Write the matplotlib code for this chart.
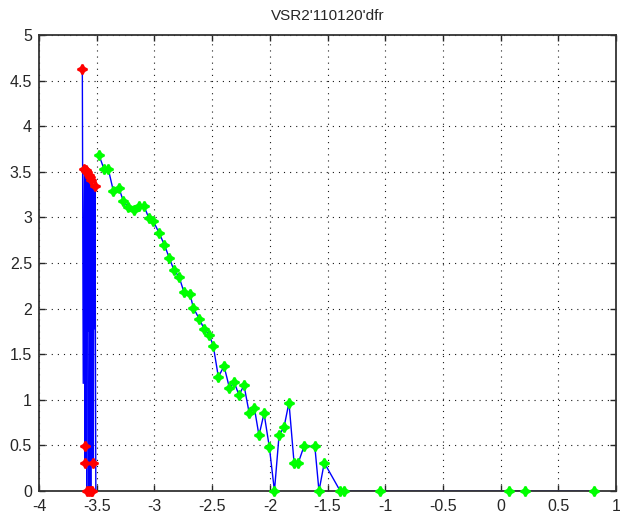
import numpy as np
import matplotlib
matplotlib.use("Agg")
import matplotlib.pyplot as plt

plt.rcParams['font.family'] = ['Liberation Sans', 'DejaVu Sans']

titulo = "VSR2'110120'dfr"

# tramo inicial (picos verticales)
pico_x = [-3.625, -3.617, -3.607, -3.601, -3.597, -3.601, -3.590, -3.587,
          -3.581, -3.575, -3.567, -3.567, -3.558, -3.552, -3.549, -3.543,
          -3.540, -3.535, -3.529, -3.525, -3.520, -3.517, -3.515, -3.508]
pico_y = [4.63, 1.18, 3.53, 0.49, 3.52, 0.31, 3.51, 0.0,
          3.50, 1.75, 3.46, 0.0, 3.44, 0.0, 3.41, 0.31,
          3.38, 1.80, 0.31, 3.36, 1.78, 3.34, 3.34, 0.0]

# puntos marcados en rojo
rojo_x = [-3.625, -3.607, -3.597, -3.590, -3.581, -3.567, -3.558, -3.549, -3.515,
          -3.601, -3.601, -3.529, -3.587, -3.567, -3.552, -3.543]
rojo_y = [4.63, 3.53, 3.52, 3.51, 3.50, 3.46, 3.44, 3.41, 3.34,
          0.49, 0.31, 0.31, 0.0, 0.0, 0.0, 0.0]

# segundo tramo (verde)
verde_x = [-3.480, -3.437, -3.400, -3.356, -3.307, -3.270, -3.226, -3.180,
           -3.133, -3.090, -3.047, -3.010, -2.960, -2.914, -2.873, -2.830,
           -2.787, -2.744, -2.692, -2.663, -2.613, -2.570, -2.524, -2.490,
           -2.446, -2.397, -2.350, -2.308, -2.267, -2.224, -2.178, -2.134,
           -2.094, -2.050, -2.004, -1.960, -1.920, -1.877, -1.834, -1.790,
           -1.753, -1.704, -1.610, -1.574, -1.528, -1.390, -1.357, -1.045,
           0.073, 0.210, 0.810]
verde_y = [3.68, 3.53, 3.53, 3.29, 3.32, 3.18, 3.11, 3.08,
           3.12, 3.12, 2.99, 2.96, 2.83, 2.70, 2.56, 2.42,
           2.35, 2.18, 2.16, 2.01, 1.89, 1.78, 1.71, 1.59,
           1.25, 1.37, 1.13, 1.19, 1.05, 1.16, 0.85, 0.91,
           0.61, 0.85, 0.48, 0.0, 0.61, 0.70, 0.97, 0.31,
           0.31, 0.49, 0.49, 0.0, 0.31, 0.0, 0.0, 0.0,
           0.0, 0.0, 0.0]

fig = plt.figure(figsize=(6.2, 5.17), dpi=100)
ax = fig.add_axes([0.063, 0.0503, 0.9305, 0.882])

ax.plot(pico_x, pico_y, color=(0, 0, 1), lw=1)
ax.plot(verde_x, verde_y, color=(0, 0, 1), lw=1)

# estrella de 4 puntas, sin recortar en el eje
estrella = (4, 1, 0)
ax.plot(rojo_x, rojo_y, ls='none', marker=estrella, ms=7, mew=1.5,
        color=(1, 0, 0), clip_on=False, zorder=6)
ax.plot(verde_x, verde_y, ls='none', marker=estrella, ms=7, mew=1.5,
        color=(0, 1, 0), clip_on=False, zorder=6)

ax.set_xlim(-4, 1)
ax.set_ylim(0, 5)
ax.set_xticks(np.arange(-4, 1.01, 0.5))
ax.set_yticks(np.arange(0, 5.01, 0.5))
ax.set_xticklabels(['-4', '-3.5', '-3', '-2.5', '-2', '-1.5', '-1', '-0.5', '0', '0.5', '1'])
ax.set_yticklabels(['0', '0.5', '1', '1.5', '2', '2.5', '3', '3.5', '4', '4.5', '5'])

ax.grid(True, color='0.1', linestyle=(0, (1, 4.5)), linewidth=0.8)
ax.tick_params(direction='in', length=4, width=1, top=True, right=True,
               labelsize=11.5, colors='0.15')
ax.tick_params(axis='x', pad=6)
ax.tick_params(axis='y', pad=5)
for s in ax.spines.values():
    s.set_color('0.2')
    s.set_linewidth(1.3)
    s.set_zorder(5)

ax.set_title(titulo, fontsize=11, pad=11, color='0.15')

fig.savefig('out.png', dpi=100)
